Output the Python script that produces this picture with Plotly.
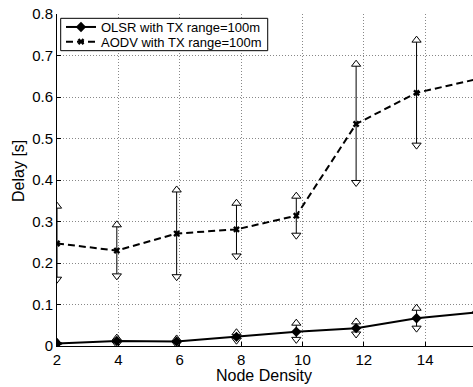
import plotly.graph_objects as go

# Node density positions
node_density = [2.0, 3.95, 5.9, 7.85, 9.8, 11.75, 13.72, 15.68]

# OLSR delay [s]
olsr_mean = [0.006, 0.012, 0.011, 0.022, 0.0345, 0.043, 0.067, 0.081]
olsr_hi = [0.009, 0.019, 0.017, 0.032, 0.055, 0.058, 0.091]
olsr_lo = [0.003, 0.005, 0.005, 0.014, 0.016, 0.029, 0.043]

# AODV delay [s]
aodv_mean = [0.247, 0.230, 0.271, 0.281, 0.314, 0.535, 0.610, 0.643]
aodv_hi = [0.337, 0.292, 0.376, 0.344, 0.361, 0.679, 0.737]
aodv_lo = [0.161, 0.169, 0.167, 0.217, 0.267, 0.394, 0.484]

x_ticks = [2, 4, 6, 8, 10, 12, 14]
y_ticks = [0, 0.1, 0.2, 0.3, 0.4, 0.5, 0.6, 0.7, 0.8]
y_ticklabels = ["0", "0.1", "0.2", "0.3", "0.4", "0.5", "0.6", "0.7", "0.8"]

FONT = "Liberation Sans, Arial, Helvetica, sans-serif"

fig = go.Figure()


def add_errorbars(xs, lo, hi):
    ex, ey = [], []
    for xv, l, h in zip(xs, lo, hi):
        ex += [xv, xv, None]
        ey += [l, h, None]
    fig.add_trace(go.Scatter(x=ex, y=ey, mode="lines",
                             line=dict(color="black", width=1),
                             showlegend=False, hoverinfo="skip"))
    n = len(lo)
    fig.add_trace(go.Scatter(x=xs[:n], y=hi, mode="markers",
                             marker=dict(symbol="triangle-up", size=8, color="white",
                                         line=dict(color="black", width=1)),
                             showlegend=False, hoverinfo="skip"))
    fig.add_trace(go.Scatter(x=xs[:n], y=lo, mode="markers",
                             marker=dict(symbol="triangle-down", size=8, color="white",
                                         line=dict(color="black", width=1)),
                             showlegend=False, hoverinfo="skip"))


add_errorbars(node_density, aodv_lo, aodv_hi)
add_errorbars(node_density, olsr_lo, olsr_hi)

fig.add_trace(go.Scatter(x=node_density, y=olsr_mean, mode="lines+markers",
                         name="OLSR with TX range=100m", legend="legend",
                         line=dict(color="black", width=2),
                         marker=dict(symbol="diamond", size=8, color="black")))
fig.add_trace(go.Scatter(x=node_density, y=aodv_mean, mode="lines+markers",
                         name="AODV with TX range=100m", legend="legend2",
                         line=dict(color="black", width=2, dash="7px,4px"),
                         marker=dict(symbol="x", size=6, color="black")))

grid = dict(showgrid=True, gridcolor="#888888", gridwidth=1, griddash="1px,2px")

fig.update_xaxes(range=[2, 15.56], tickvals=x_ticks, ticks="inside", ticklen=4,
                 tickcolor="black", showline=True, linecolor="black", linewidth=1,
                 zeroline=False, tickfont=dict(family=FONT, size=15, color="black"),
                 **grid)
fig.update_yaxes(range=[0, 0.8], tickvals=y_ticks, ticktext=y_ticklabels,
                 ticks="inside", ticklen=4, tickcolor="black", showline=True,
                 linecolor="black", linewidth=1, zeroline=False,
                 tickfont=dict(family=FONT, size=15, color="black"), **grid)

fig.add_annotation(text="Node Density", xref="paper", yref="paper",
                   x=0.4976, y=-0.088, xanchor="center", yanchor="middle",
                   showarrow=False, font=dict(family=FONT, size=16, color="black"))
fig.add_annotation(text="Delay [s]", xref="paper", yref="paper",
                   x=-0.094, y=0.527, xanchor="center", yanchor="middle",
                   textangle=-90, showarrow=False,
                   font=dict(family=FONT, size=16, color="black"))

# legend frame
fig.add_shape(type="rect", xref="paper", yref="paper",
              x0=0.0089, x1=0.5065, y0=0.8895, y1=0.987,
              line=dict(color="black", width=1), fillcolor="white", layer="above")

leg_common = dict(xanchor="left", yanchor="middle", bgcolor="rgba(0,0,0,0)",
                  borderwidth=0, font=dict(family=FONT, size=13, color="black"),
                  itemwidth=30)

fig.update_layout(
    width=473, height=387,
    margin=dict(l=57, r=0, t=14, b=41),
    paper_bgcolor="white", plot_bgcolor="white",
    showlegend=True,
    legend=dict(x=0.0096, y=0.9608, **leg_common),
    legend2=dict(x=0.0096, y=0.9166, **leg_common),
)

fig.write_html("out.html")
